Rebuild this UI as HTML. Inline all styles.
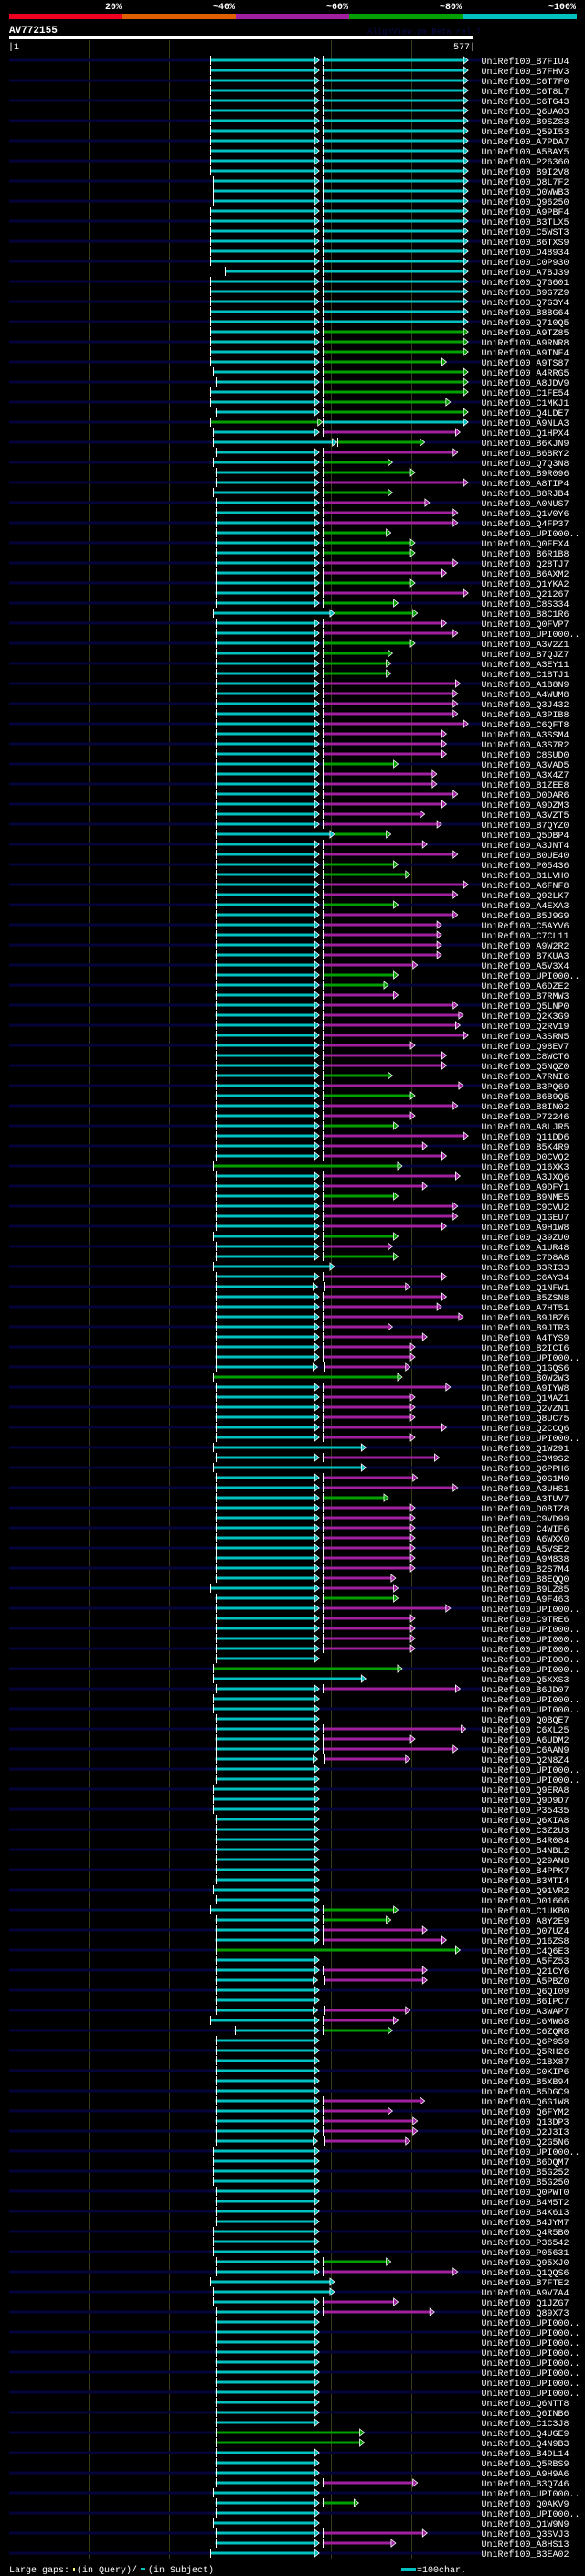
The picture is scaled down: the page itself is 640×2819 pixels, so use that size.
<!DOCTYPE html>
<html><head><meta charset="utf-8"><title>AV772155 alignment overview</title>
<style>
html,body{margin:0;padding:0;background:#000;}
svg{display:block;}
text{font-family:"Liberation Mono","DejaVu Sans Mono",monospace;}
</style></head>
<body>
<svg id="chart" width="640" height="2819" viewBox="0 0 640 2819" xmlns="http://www.w3.org/2000/svg">
<rect x="0" y="0" width="640" height="2819" fill="#000"/>
<g>
<text x="133" y="10" text-anchor="end" fill="#fff" font-size="10" font-weight="bold">20%</text>
<text x="257" y="10" text-anchor="end" fill="#fff" font-size="10" font-weight="bold">~40%</text>
<text x="381" y="10" text-anchor="end" fill="#fff" font-size="10" font-weight="bold">~60%</text>
<text x="505" y="10" text-anchor="end" fill="#fff" font-size="10" font-weight="bold">~80%</text>
<text x="630" y="10" text-anchor="end" fill="#fff" font-size="10" font-weight="bold">~100%</text>
<rect x="10" y="15" width="124" height="6" fill="#f00020"/>
<rect x="134" y="15" width="124" height="6" fill="#e06000"/>
<rect x="258" y="15" width="124" height="6" fill="#a020a0"/>
<rect x="382" y="15" width="124" height="6" fill="#00a000"/>
<rect x="506" y="15" width="125" height="6" fill="#00c0c0"/>
</g>
<text x="10" y="36" fill="#fff" font-size="11" font-weight="bold">AV772155</text>
<text x="402" y="37" fill="#0a0a4a" font-size="9">AlignView.pm Beta rel.7</text>
<rect x="10" y="39" width="508" height="4" fill="#fff"/>
<text x="9" y="54" fill="#fff" font-size="10">|1</text>
<text x="520" y="54" text-anchor="end" fill="#fff" font-size="10">577|</text>
<g id="grid"></g>
<g id="rows"></g>
<g>
<text x="10" y="2815" fill="#fff" font-size="10">Large gaps:</text>
<rect x="80" y="2810" width="2" height="4" fill="#ffff80"/>
<text x="84" y="2815" fill="#fff" font-size="10">(in Query)/</text>
<rect x="154" y="2810" width="5" height="2" fill="#00c0c0"/>
<text x="162" y="2815" fill="#fff" font-size="10">(in Subject)</text>
<rect x="439" y="2810" width="16" height="3" fill="#00c0c0"/>
<text x="456" y="2815" fill="#fff" font-size="10">=100char.</text>
</g>
</svg>
<script>
const queryLength = 577;
const gridTicks = [100,200,300,400,500];
const names = ("B7FIU4 B7FHV3 C6T7F0 C6T8L7 C6TG43 Q6UA03 B9SZS3 Q59I53 A7PDA7 A5BAY5 " +
"P26360 B9I2V8 Q8L7F2 Q0WWB3 Q96250 A9PBF4 B3TLX5 C5WST3 B6TXS9 O48934 " +
"C0P930 A7BJ39 Q7G601 B9G7Z9 Q7G3Y4 B8BG64 Q710Q5 A9TZ85 A9RNR8 A9TNF4 " +
"A9TS87 A4RRG5 A8JDV9 C1FE54 C1MKJ1 Q4LDE7 A9NLA3 Q1HPX4 B6KJN9 B6BRY2 " +
"Q7Q3N8 B9R096 A8TIP4 B8RJB4 A0NUS7 Q1V0Y6 Q4FP37 UPI000.. Q0FEX4 B6R1B8 " +
"Q28TJ7 B6AXM2 Q1YKA2 Q21267 C8S334 B8C1R6 Q0FVP7 UPI000.. A3V2Z1 B7QJZ7 " +
"A3EY11 C1BTJ1 A1B8N9 A4WUM8 Q3J432 A3PIB8 C6QFT8 A3SSM4 A3S7R2 C8SUD0 " +
"A3VAD5 A3X4Z7 B1ZEE8 D0DAR6 A9DZM3 A3VZT5 B7QYZ0 Q5DBP4 A3JNT4 B0UE40 " +
"P05436 B1LVH0 A6FNF8 Q92LK7 A4EXA3 B5J9G9 C5AYV6 C7CL11 A9W2R2 B7KUA3 " +
"A5V3X4 UPI000.. A6DZE2 B7RMW3 Q5LNP0 Q2K3G9 Q2RV19 A3SRN5 Q98EV7 C8WCT6 " +
"Q5NQZ0 A7RNI6 B3PQ69 B6B9Q5 B8IN02 P72246 A8LJR5 Q11DD6 B5K4R9 D0CVQ2 " +
"Q16XK3 A3JXQ6 A9DFY1 B9NME5 C9CVU2 Q1GEU7 A9H1W8 Q39ZU0 A1UR48 C7D8A8 " +
"B3RI33 C6AY34 Q1NFW1 B5ZSN8 A7HT51 B9JBZ6 B9JTR3 A4TYS9 B2ICI6 UPI000.. " +
"Q1GQS6 B0W2W3 A9IYW8 Q1MAZ1 Q2VZN1 Q8UC75 Q2CCQ6 UPI000.. Q1W291 C3M9S2 " +
"Q6PPH6 Q0G1M0 A3UHS1 A3TUV7 D0BIZ8 C9VD99 C4WIF6 A6WXX0 A5VSE2 A9M838 " +
"B2S7M4 B8EQQ0 B9LZ85 A9F463 UPI000.. C9TRE6 UPI000.. UPI000.. UPI000.. UPI000.. " +
"UPI000.. Q5XXS3 B6JD07 UPI000.. UPI000.. Q0BQE7 C6XL25 A6UDM2 C6AAN9 Q2N8Z4 " +
"UPI000.. UPI000.. Q9ERA8 Q9D9D7 P35435 Q6XIA8 C3Z2U3 B4R084 B4NBL2 Q29AN8 " +
"B4PPK7 B3MTI4 Q91VR2 O01666 C1UKB0 A8Y2E9 Q07UZ4 Q16ZS8 C4Q6E3 A5FZ53 " +
"Q21CY6 A5PBZ0 Q6QI09 B6IPC7 A3WAP7 C6MW68 C6ZQR8 Q6P959 Q5RH26 C1BX87 " +
"C0KIP6 B5XB94 B5DGC9 Q6G1W8 Q6FYM2 Q13DP3 Q2J3I3 Q2G5N6 UPI000.. B6DQM7 " +
"B5G252 B5G250 Q0PWT0 B4M5T2 B4K613 B4JYM7 Q4R5B0 P36542 P05631 Q95XJ0 " +
"Q1QQS6 B7FTE2 A9V7A4 Q1JZG7 Q89X73 UPI000.. UPI000.. UPI000.. UPI000.. UPI000.. " +
"UPI000.. UPI000.. UPI000.. Q6NTT8 Q6INB6 C1C3J8 Q4UGE9 Q4N9B3 B4DL14 Q5RBS9 " +
"A9H9A6 B3Q746 UPI000.. Q0AKV9 UPI000.. Q1W9N9 Q3SVJ3 A8HS13 B3EA02").split(" ");
const starts = [
251,251,251,251,251,251,251,251,251,251,
251,251,254,254,254,251,251,251,251,251,
251,269,251,251,251,251,251,251,251,251,
251,254,257,251,251,257,251,254,254,257,
254,257,257,254,257,257,257,257,257,257,
257,257,257,257,257,254,257,257,257,257,
257,257,257,257,257,257,257,257,257,257,
257,257,257,257,257,257,257,257,257,257,
257,257,257,257,257,257,257,257,257,257,
257,257,257,257,257,257,257,257,257,257,
257,257,257,257,257,257,257,257,257,257,
254,257,257,257,257,257,257,254,257,257,
254,257,257,257,257,257,257,257,257,257,
257,254,257,257,257,257,257,257,254,257,
254,257,257,257,257,257,257,257,257,257,
257,257,251,257,257,257,257,257,257,257,
254,254,257,254,254,257,257,257,257,257,
257,257,254,254,254,257,257,257,257,257,
257,257,254,257,251,257,257,257,257,257,
257,257,257,257,257,251,281,257,257,257,
257,257,257,257,257,257,257,257,254,254,
254,254,257,257,257,257,254,254,254,257,
257,251,254,254,257,257,257,257,257,257,
257,257,257,257,257,257,257,257,257,257,
257,257,254,257,257,254,257,257,251];
const ends1 = [
386,386,386,386,386,386,386,386,386,386,
386,386,386,386,386,386,386,386,386,386,
386,386,386,386,386,386,386,386,386,386,
386,386,386,386,386,386,390,386,408,386,
386,386,386,386,386,386,386,386,386,386,
386,386,386,386,386,405,386,386,386,386,
386,386,386,386,386,386,386,386,386,386,
386,386,386,386,386,386,386,405,386,386,
386,386,386,386,386,386,386,386,386,386,
386,386,386,386,386,386,386,386,386,386,
386,386,386,386,386,386,386,386,386,386,
489,386,386,386,386,386,386,386,386,386,
405,386,384,386,386,386,386,386,386,386,
384,489,386,386,386,386,386,386,444,386,
444,386,386,386,386,386,386,386,386,386,
386,386,386,386,386,386,386,386,386,386,
489,444,386,386,386,386,386,386,386,384,
386,386,386,386,386,386,386,386,386,386,
386,386,386,386,386,386,386,386,561,386,
386,384,386,386,384,386,386,386,386,386,
386,386,386,386,386,386,386,384,386,386,
386,386,386,386,386,386,386,386,386,386,
386,405,405,386,386,386,386,386,386,386,
386,386,386,386,386,386,442,442,386,386,
386,386,386,386,386,386,386,386,386];
const colors1 = ("cccccccccc cccccccccc cccccccccc ccccccgccc cccccccccc cccccccccc cccccccccc cccccccccc cccccccccc cccccccccc cccccccccc " +
"gccccccccc cccccccccc cgcccccccc cccccccccc cccccccccc gccccccccc cccccccccc ccccccccgc cccccccccc cccccccccc cccccccccc cccccccccc ccccccggcc ccccccccc").replace(/ /g,"").split("");
const starts2 = [
390,390,390,390,390,390,390,390,390,390,
390,390,390,390,390,390,390,390,390,390,
390,390,390,390,390,390,390,390,390,390,
390,390,390,390,390,390,390,390,408,390,
390,390,390,390,390,390,390,390,390,390,
390,390,390,390,390,405,390,390,390,390,
390,390,390,390,390,390,390,390,390,390,
390,390,390,390,390,390,390,405,390,390,
390,390,390,390,390,390,390,390,390,390,
390,390,390,390,390,390,390,390,390,390,
390,390,390,390,390,390,390,390,390,390,
390,390,390,390,390,390,390,390,390,390,
390,390,393,390,390,390,390,390,390,390,
393,390,390,390,390,390,390,390,390,390,
390,390,390,390,390,390,390,390,390,390,
390,390,390,390,390,390,390,390,390,390,
390,390,390,390,390,390,390,390,390,393,
390,390,390,390,390,390,390,390,390,390,
390,390,390,390,390,390,390,390,390,390,
390,393,390,390,393,390,390,390,390,390,
390,390,390,390,390,390,390,393,390,390,
390,390,390,390,390,390,390,390,390,390,
390,390,390,390,390,390,390,390,390,390,
390,390,390,390,390,390,390,390,390,390,
390,390,390,390,390,390,390,390,390];
const ends2 = [
571,571,571,571,571,571,571,571,571,571,
571,571,571,571,571,571,571,571,571,571,
571,571,571,571,571,571,571,571,571,571,
544,571,571,571,549,571,571,561,517,558,
477,505,571,477,523,558,558,475,505,505,
558,544,505,571,484,508,544,558,505,477,
475,475,561,558,558,558,571,544,544,544,
484,532,532,558,544,517,538,475,520,558,
484,499,571,558,484,558,538,538,538,538,
508,484,472,484,558,565,561,571,505,544,
544,477,565,505,558,505,484,571,520,544,
0,561,520,484,558,558,544,484,477,484,
0,544,499,544,538,565,477,520,505,505,
499,0,549,505,505,505,544,505,0,535,
0,508,558,472,505,505,505,505,505,505,
505,481,484,484,549,505,505,505,505,0,
0,0,561,0,0,0,568,505,558,499,
0,0,0,0,0,0,0,0,0,0,
0,0,0,0,484,475,520,544,0,0,
520,520,0,0,499,484,477,0,0,0,
0,0,0,517,477,508,508,499,0,0,
0,0,0,0,0,0,0,0,0,475,
558,0,0,484,529,0,0,0,0,0,
0,0,0,0,0,0,0,0,0,0,
0,508,0,435,0,0,520,481,0];
const colors2 = ("cccccccccc cccccccccc cccccccggg ggggggcmgm ggmgmmmggg mmgmggmmgg ggmmmmmmmm gmmmmmmgmm ggmmgmmmmm mggmmmmmmm " +
"mgmgmmgmmm -mmgmmmgmg -mmmmmmmmm m-mmmmmm-m -mmgmmmmmm mmmgmmmmm- --m---mmmm ---------- ----ggmm-- mm--mmg--- " +
"---mmmmm-- ---------g m--mm----- ---------- -m-g--mm-").replace(/ /g,"").split("");

const palette = {c:"#00c0c0", g:"#00a000", m:"#a020a0"};
const NS = "http://www.w3.org/2000/svg";
const X0 = 10, X1 = 517.5, ROW0 = 66, PITCH = 11;
function xScale(r){ return X0 + (r - 1) * (X1 - X0) / (queryLength - 1); }
function yRow(i){ return ROW0 + i * PITCH; }
function mk(tag, attrs, parent){
  const el = document.createElementNS(NS, tag);
  for (const k in attrs) el.setAttribute(k, attrs[k]);
  parent.appendChild(el);
  return el;
}
const grid = document.getElementById("grid");
const rowsG = document.getElementById("rows");
const lastY = yRow(names.length - 1) + 6;
gridTicks.forEach(function(t){
  const gx = Math.round(xScale(t)) + 0.5;
  const ln = mk("line", {x1:gx, x2:gx, y1:44, y2:lastY, stroke:"#3a3a14", "stroke-width":1}, grid);
  
  
});
function drawSeg(g, s, e, col, withTick){
  const y = +g.getAttribute("data-y");
  const xs = xScale(s), xe = xScale(e);
  const bar = mk("rect", {x:xs, y:y-1.5, width:Math.max(0, xe - 5 - xs), height:3, fill:palette[col]}, g);
  
  
  const arr = mk("polygon", {points:(xe-5)+","+(y-4)+" "+xe+","+y+" "+(xe-5)+","+(y+4), fill:palette[col], stroke:"#fff", "stroke-width":0.8}, g);
  
  
  if (withTick){
    const tk = mk("line", {x1:Math.round(xs)+0.5, x2:Math.round(xs)+0.5, y1:y-5, y2:y+5, stroke:"#fff", "stroke-width":1}, g);
    
    
  }
}
names.forEach(function(nm, i){
  const y = yRow(i);
  const g = mk("g", {"data-y":y}, rowsG);
  
  
  if (i % 2 === 0){
    const bg = mk("rect", {x:10, y:y-1.5, width:517, height:3, fill:"#04043a"}, g);
    
    
  }
  drawSeg(g, starts[i], ends1[i], colors1[i], true);
  if (ends2[i] > 0 && colors2[i] !== "-"){
    drawSeg(g, starts2[i], ends2[i], colors2[i], true);
  }
  const t = mk("text", {x:526.5, y:y+4, fill:"#fff", "font-size":10}, g);
  t.textContent = "UniRef100_" + nm;
  
  
});
</script>
</body></html>
